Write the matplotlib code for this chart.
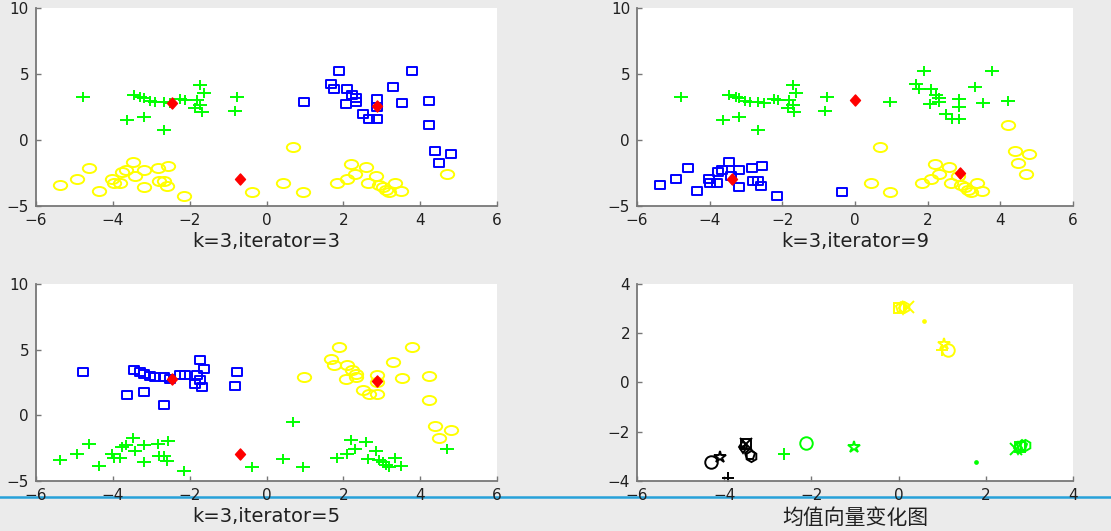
import numpy as np
import matplotlib
matplotlib.use('Agg')
import matplotlib.pyplot as plt
from matplotlib.path import Path
from matplotlib.transforms import Affine2D
from matplotlib.lines import Line2D


#%% Dados: pontos, separados em grupos
grupo_sup_esq_x = [-4.78, -3.46, -3.29, -3.20, -3.03, -2.90, -2.68, -2.50, -2.24, -2.11, -1.72,
                   -1.63, -1.81, -1.72, -1.85, -1.68, -0.78, -0.83, -3.63, -3.18, -2.68]
grupo_sup_esq_y = [3.29, 3.42, 3.29, 3.16, 2.99, 2.91, 2.91, 2.78, 3.09, 3.04, 4.18,
                   3.54, 3.04, 2.66, 2.40, 2.15, 3.29, 2.20, 1.52, 1.77, 0.76]

grupo_sup_dir_x = [1.89, 3.78, 1.67, 1.76, 2.10, 2.23, 2.32, 2.32, 2.06, 0.97, 2.87,
                   2.87, 3.30, 3.52, 4.22, 2.50, 2.67, 2.87]
grupo_sup_dir_y = [5.19, 5.19, 4.25, 3.85, 3.85, 3.42, 3.16, 2.91, 2.73, 2.91, 3.09,
                   2.53, 4.05, 2.84, 2.99, 1.95, 1.59, 1.59]

grupo_dir_x = [4.22, 4.39, 4.80, 4.48]
grupo_dir_y = [1.14, -0.84, -1.09, -1.72]

grupo_inf_esq_x = [-5.37, -4.92, -4.61, -4.35, -4.03, -3.98, -3.81, -3.77, -3.65, -3.48,
                   -3.42, -3.20, -3.18, -2.83, -2.81, -2.68, -2.57, -2.59, -2.16, -0.37]
grupo_inf_esq_y = [-3.37, -2.94, -2.15, -3.87, -2.96, -3.22, -3.22, -2.41, -2.28, -1.70,
                   -2.73, -2.28, -3.54, -2.15, -3.11, -3.11, -1.95, -3.47, -4.25, -3.97]

grupo_inf_dir_x = [0.43, 0.69, 0.95, 1.84, 2.10, 2.19, 2.30, 2.59, 2.63, 2.84, 2.93,
                   3.02, 3.10, 3.19, 3.35, 3.50, 4.70]
grupo_inf_dir_y = [-3.29, -0.51, -3.97, -3.22, -2.96, -1.85, -2.58, -2.03, -3.29, -2.71, -3.37,
                   -3.59, -3.75, -3.97, -3.22, -3.87, -2.58]

grupos = {
    'sup_esq': (grupo_sup_esq_x, grupo_sup_esq_y),
    'sup_dir': (grupo_sup_dir_x, grupo_sup_dir_y),
    'dir': (grupo_dir_x, grupo_dir_y),
    'inf_esq': (grupo_inf_esq_x, grupo_inf_esq_y),
    'inf_dir': (grupo_inf_dir_x, grupo_inf_dir_y),
}

# classes de cada painel: cor -> grupos
classes_it3 = {'verde': ['sup_esq'], 'azul': ['sup_dir', 'dir'], 'amarelo': ['inf_esq', 'inf_dir']}
classes_it5 = {'azul': ['sup_esq'], 'amarelo': ['sup_dir', 'dir'], 'verde': ['inf_esq', 'inf_dir']}
classes_it9 = {'verde': ['sup_esq', 'sup_dir'], 'azul': ['inf_esq'], 'amarelo': ['inf_dir', 'dir']}

centros_it3_x = [-2.46, 2.87, -0.70]
centros_it3_y = [2.78, 2.58, -2.96]
centros_it5_x = [-2.46, 2.87, -0.70]
centros_it5_y = [2.78, 2.58, -2.96]
centros_it9_x = [0.00, -3.40, 2.88]
centros_it9_y = [3.00, -2.96, -2.48]

# trajetoria dos vetores de media (painel 4)
traj_preto_x = [-3.91, -4.30, -4.10, -3.58, -3.51, -3.51, -3.56, -3.42, -3.38]
traj_preto_y = [-3.89, -3.21, -3.04, -2.62, -2.49, -2.49, -2.62, -2.95, -2.97]
traj_verde_x = [-2.63, -2.13, -1.02, 1.77, 2.70, 2.78, 2.74, 2.84, 2.90]
traj_verde_y = [-2.92, -2.44, -2.64, -3.24, -2.72, -2.62, -2.66, -2.56, -2.52]
traj_amarelo_x = [0.99, 1.13, 1.03, 0.59, 0.22, 0.02, 0.10, 0.05, 0.12]
traj_amarelo_y = [1.33, 1.30, 1.57, 2.51, 3.08, 3.02, 3.04, 3.02, 3.08]
marcadores_iter = ['+', 'o', '*', '.', 'x', 's', 'd', 'p', 'h']


#%% Marcadores "esticados" (a imagem original esta alargada na horizontal)
m_elipse = Affine2D().scale(1, 0.68).transform_path(Path.unit_circle())
m_retang = Path([(-1, -0.68), (1, -0.68), (1, 0.68), (-1, 0.68), (-1, -0.68)],
                [Path.MOVETO, Path.LINETO, Path.LINETO, Path.LINETO, Path.CLOSEPOLY])
m_mais = Path([(-1, 0), (1, 0), (0, -0.72), (0, 0.72)],
              [Path.MOVETO, Path.LINETO, Path.MOVETO, Path.LINETO])
m_losango = Path([(0, 1), (0.9, 0), (0, -1), (-0.9, 0), (0, 1)],
                 [Path.MOVETO, Path.LINETO, Path.LINETO, Path.LINETO, Path.CLOSEPOLY])

estilo = {
    'verde': dict(marker=m_mais, color='#00ff00', ms=10, mew=1.4),
    'azul': dict(marker=m_retang, color='#0000ff', ms=7.7, mew=1.4, mfc='none'),
    'amarelo': dict(marker=m_elipse, color='#ffff00', ms=9.6, mew=1.4, mfc='none'),
}

fundo = '#ebebeb'
cinza = '#777777'


def prepara_eixo(ax, xlim, ylim, xticks, yticks, rotulo, **kw):
    ax.set_facecolor('white')
    ax.set_xlim(xlim)
    ax.set_ylim(ylim)
    ax.set_xticks(xticks)
    ax.set_yticks(yticks)
    for s in ['top', 'right']:
        ax.spines[s].set_visible(False)
    for s in ['left', 'bottom']:
        ax.spines[s].set_color(cinza)
        ax.spines[s].set_linewidth(1.3)
    ax.tick_params(direction='in', length=3.5, width=1, color=cinza,
                   labelsize=11, labelcolor='#202020', pad=5)
    ax.set_xlabel(rotulo, fontsize=14, color='#202020', labelpad=3, **kw)


def painel(ax, classes, cx, cy, rotulo):
    prepara_eixo(ax, (-6, 6), (-5, 10), np.arange(-6, 7, 2), [-5, 0, 5, 10], rotulo)
    for cor, nomes in classes.items():
        px = np.concatenate([grupos[n][0] for n in nomes])
        py = np.concatenate([grupos[n][1] for n in nomes])
        ax.plot(px, py, ls='none', **estilo[cor])
    ax.plot(cx, cy, ls='none', marker=m_losango, ms=8, color='#ff0000', mec='#ff0000')


#%% Figura
fig = plt.figure(figsize=(11.11, 5.31), dpi=100, facecolor=fundo)

ax1 = fig.add_axes([0.0324, 0.612, 0.415, 0.373])
ax2 = fig.add_axes([0.5734, 0.612, 0.3924, 0.373])
ax3 = fig.add_axes([0.0324, 0.0942, 0.415, 0.371])
ax4 = fig.add_axes([0.5734, 0.0942, 0.3924, 0.371])

painel(ax1, classes_it3, centros_it3_x, centros_it3_y, 'k=3,iterator=3')
painel(ax2, classes_it9, centros_it9_x, centros_it9_y, 'k=3,iterator=9')
painel(ax3, classes_it5, centros_it5_x, centros_it5_y, 'k=3,iterator=5')

prepara_eixo(ax4, (-6, 4), (-4, 4), np.arange(-6, 5, 2), np.arange(-4, 5, 2),
             '均值向量变化图', family=['Noto Sans CJK SC', 'DejaVu Sans'])
ax4.xaxis.label.set_size(15)
tamanhos = {'+': 9, 'o': 9, '*': 9, '.': 4, 'x': 8, 's': 6.5, 'd': 6.5, 'p': 8, 'h': 8}
for tx, ty, cor in [(traj_preto_x, traj_preto_y, 'black'),
                    (traj_verde_x, traj_verde_y, '#00ff00'),
                    (traj_amarelo_x, traj_amarelo_y, '#ffff00')]:
    for xi, yi, mk in zip(tx, ty, marcadores_iter):
        ax4.plot(xi, yi, ls='none', marker=mk, color=cor, ms=tamanhos[mk], mew=1.4,
                 mfc=cor if mk == '.' else 'none')

# linha azul do slide original
fig.add_artist(Line2D([0, 1], [0.064, 0.064], transform=fig.transFigure,
                      color='#27a1d9', lw=1.8, zorder=0))

fig.savefig('out.png', dpi=100, facecolor=fundo)
